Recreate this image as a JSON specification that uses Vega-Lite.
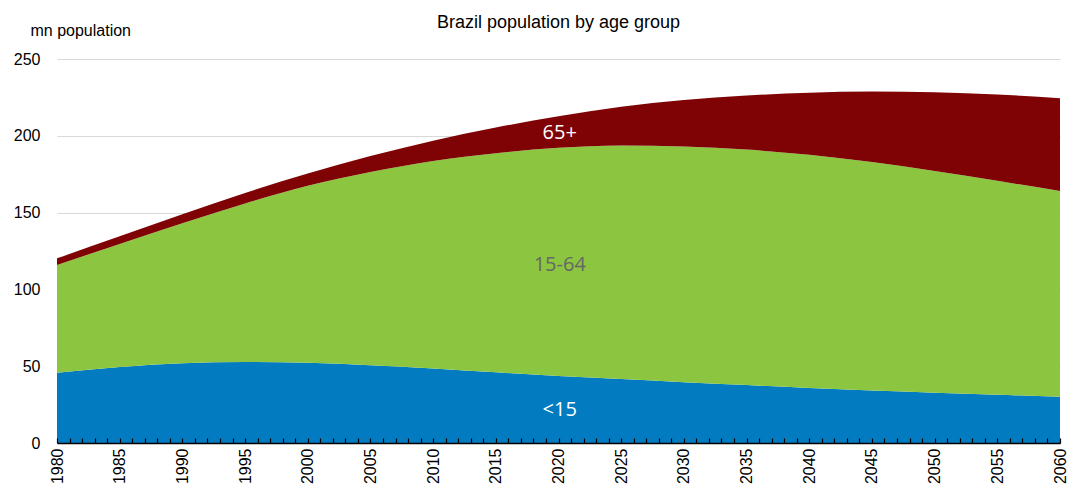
{
  "$schema": "https://vega.github.io/schema/vega-lite/v6.json",
  "width": 1003,
  "height": 384,
  "autosize": {"type": "none"},
  "padding": {"left": 57, "top": 59, "right": 8, "bottom": 41},
  "background": "white",
  "title": {
    "text": "Brazil population by age group",
    "font": "Liberation Sans",
    "fontSize": 18,
    "fontWeight": "normal",
    "color": "#000000",
    "anchor": "middle",
    "frame": "group",
    "offset": 4,
    "dy": 14
  },
  "config": {
    "view": {"stroke": null},
    "font": "Liberation Sans"
  },
  "resolve": {"axis": {"x": "independent"}},
  "datasets": {
    "pop": [
      {"year": 1980, "group": "<15", "rank": 1, "value": 45.8}, {"year": 1980, "group": "15-64", "rank": 2, "value": 70.1}, {"year": 1980, "group": "65+", "rank": 3, "value": 4.3},
      {"year": 1985, "group": "<15", "rank": 1, "value": 49.5}, {"year": 1985, "group": "15-64", "rank": 2, "value": 80.1}, {"year": 1985, "group": "65+", "rank": 3, "value": 5.0},
      {"year": 1990, "group": "<15", "rank": 1, "value": 52.0}, {"year": 1990, "group": "15-64", "rank": 2, "value": 91.1}, {"year": 1990, "group": "65+", "rank": 3, "value": 5.9},
      {"year": 1995, "group": "<15", "rank": 1, "value": 52.7}, {"year": 1995, "group": "15-64", "rank": 2, "value": 103.3}, {"year": 1995, "group": "65+", "rank": 3, "value": 6.8},
      {"year": 2000, "group": "<15", "rank": 1, "value": 52.2}, {"year": 2000, "group": "15-64", "rank": 2, "value": 115.2}, {"year": 2000, "group": "65+", "rank": 3, "value": 8.1},
      {"year": 2005, "group": "<15", "rank": 1, "value": 50.6}, {"year": 2005, "group": "15-64", "rank": 2, "value": 125.8}, {"year": 2005, "group": "65+", "rank": 3, "value": 10.4},
      {"year": 2010, "group": "<15", "rank": 1, "value": 48.5}, {"year": 2010, "group": "15-64", "rank": 2, "value": 135.1}, {"year": 2010, "group": "65+", "rank": 3, "value": 13.2},
      {"year": 2015, "group": "<15", "rank": 1, "value": 46.0}, {"year": 2015, "group": "15-64", "rank": 2, "value": 142.7}, {"year": 2015, "group": "65+", "rank": 3, "value": 16.7},
      {"year": 2020, "group": "<15", "rank": 1, "value": 43.6}, {"year": 2020, "group": "15-64", "rank": 2, "value": 148.6}, {"year": 2020, "group": "65+", "rank": 3, "value": 20.6},
      {"year": 2025, "group": "<15", "rank": 1, "value": 41.6}, {"year": 2025, "group": "15-64", "rank": 2, "value": 152.1}, {"year": 2025, "group": "65+", "rank": 3, "value": 25.2},
      {"year": 2030, "group": "<15", "rank": 1, "value": 39.6}, {"year": 2030, "group": "15-64", "rank": 2, "value": 153.5}, {"year": 2030, "group": "65+", "rank": 3, "value": 30.2},
      {"year": 2035, "group": "<15", "rank": 1, "value": 37.7}, {"year": 2035, "group": "15-64", "rank": 2, "value": 153.3}, {"year": 2035, "group": "65+", "rank": 3, "value": 35.2},
      {"year": 2040, "group": "<15", "rank": 1, "value": 35.8}, {"year": 2040, "group": "15-64", "rank": 2, "value": 151.8}, {"year": 2040, "group": "65+", "rank": 3, "value": 40.4},
      {"year": 2045, "group": "<15", "rank": 1, "value": 34.1}, {"year": 2045, "group": "15-64", "rank": 2, "value": 148.8}, {"year": 2045, "group": "65+", "rank": 3, "value": 45.9},
      {"year": 2050, "group": "<15", "rank": 1, "value": 32.7}, {"year": 2050, "group": "15-64", "rank": 2, "value": 144.4}, {"year": 2050, "group": "65+", "rank": 3, "value": 51.3},
      {"year": 2055, "group": "<15", "rank": 1, "value": 31.4}, {"year": 2055, "group": "15-64", "rank": 2, "value": 139.3}, {"year": 2055, "group": "65+", "rank": 3, "value": 56.2},
      {"year": 2060, "group": "<15", "rank": 1, "value": 30.1}, {"year": 2060, "group": "15-64", "rank": 2, "value": 133.9}, {"year": 2060, "group": "65+", "rank": 3, "value": 60.4}
    ],
    "labels": [
      {"year": 2020.1, "value": 201.5, "label": "65+"},
      {"year": 2020.1, "value": 116, "label": "15-64"},
      {"year": 2020.1, "value": 21.5, "label": "<15"}
    ]
  },
  "layer": [
    {
      "data": {"name": "pop"},
      "mark": {"type": "area", "interpolate": "monotone", "stroke": null},
      "encoding": {
        "x": {
          "field": "year", "type": "quantitative",
          "scale": {"domain": [1980, 2060], "nice": false, "zero": false},
          "axis": {
            "orient": "bottom",
            "title": null,
            "values": [1980,1981,1982,1983,1984,1985,1986,1987,1988,1989,1990,1991,1992,1993,1994,1995,1996,1997,1998,1999,2000,2001,2002,2003,2004,2005,2006,2007,2008,2009,2010,2011,2012,2013,2014,2015,2016,2017,2018,2019,2020,2021,2022,2023,2024,2025,2026,2027,2028,2029,2030,2031,2032,2033,2034,2035,2036,2037,2038,2039,2040,2041,2042,2043,2044,2045,2046,2047,2048,2049,2050,2051,2052,2053,2054,2055,2056,2057,2058,2059,2060],
            "labels": false,
            "grid": false,
            "domain": true,
            "domainColor": "#000000",
            "domainWidth": 1.5,
            "ticks": true,
            "tickColor": "#000000",
            "tickSize": -5,
            "tickWidth": 1.2,
            "zindex": 1
          }
        },
        "y": {
          "field": "value", "type": "quantitative", "stack": "zero",
          "scale": {"domain": [0, 250], "nice": false},
          "axis": {
            "values": [0, 50, 100, 150, 200, 250],
            "title": "mn population",
            "titleAngle": 0,
            "titleAlign": "left",
            "titleBaseline": "alphabetic",
            "titleX": -27,
            "titleY": -24,
            "titleFont": "Liberation Sans",
            "titleFontSize": 16,
            "titleFontWeight": "normal",
            "titleColor": "#000000",
            "labelFont": "Liberation Sans",
            "labelFontSize": 16,
            "labelColor": "#000000",
            "labelPadding": 17,
            "domain": false,
            "ticks": false,
            "grid": true,
            "gridColor": "#d9d9d9",
            "gridWidth": 1.2
          }
        },
        "color": {
          "field": "group", "type": "nominal",
          "scale": {"domain": ["<15", "15-64", "65+"], "range": ["#037BC1", "#8CC641", "#7F0305"]},
          "legend": null
        },
        "order": {"field": "rank", "type": "quantitative", "sort": "ascending"}
      }
    },
    {
      "data": {"name": "labels"},
      "mark": {"type": "text", "font": "Open Sans", "fontSize": 20, "align": "center", "baseline": "middle"},
      "encoding": {
        "x": {
          "field": "year", "type": "quantitative",
          "axis": {
            "orient": "bottom",
            "title": null,
            "values": [1980, 1985, 1990, 1995, 2000, 2005, 2010, 2015, 2020, 2025, 2030, 2035, 2040, 2045, 2050, 2055, 2060],
            "format": "d",
            "labelOverlap": false,
            "labelAngle": -90,
            "labelAlign": "right",
            "labelBaseline": "middle",
            "labelFont": "Liberation Sans",
            "labelFontSize": 16,
            "labelColor": "#000000",
            "labelPadding": 5,
            "labelBound": false,
            "labelFlush": false,
            "grid": false,
            "domain": false,
            "ticks": false
          }
        },
        "y": {"field": "value", "type": "quantitative"},
        "text": {"field": "label"},
        "color": {"condition": {"test": "datum.label === '15-64'", "value": "#666666"}, "value": "#ffffff"}
      }
    }
  ]
}
